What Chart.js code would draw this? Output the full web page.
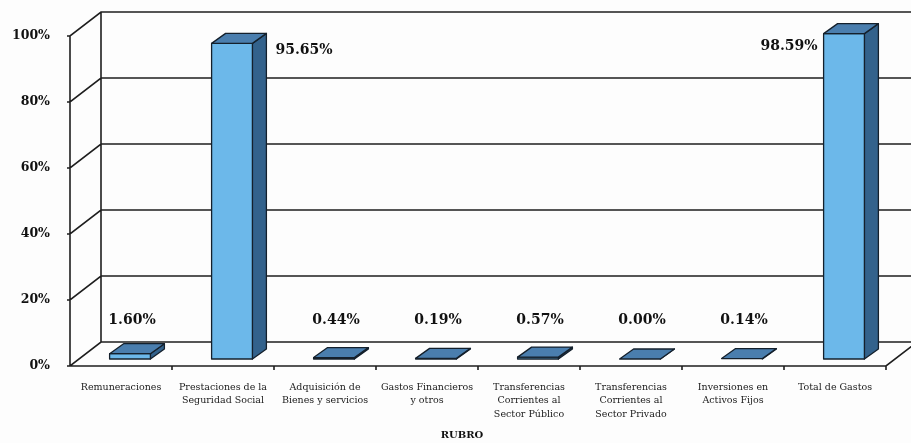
<!DOCTYPE html>
<html>
<head>
<meta charset="utf-8">
<script src="https://cdn.jsdelivr.net/npm/chart.js@4/dist/chart.umd.min.js"></script>
<style>
  body { margin: 0; background: #fdfdfd; }
  #wrap { width: 911px; height: 443px; }
</style>
</head>
<body>
<div id="wrap"><canvas id="chart" width="911" height="443"></canvas></div>
<script>
// Données du graphique
const rubros = [
    'Remuneraciones',
    ['Prestaciones de la', 'Seguridad Social'],
    ['Adquisición de', 'Bienes y servicios'],
    ['Gastos Financieros', 'y otros'],
    ['Transferencias', 'Corrientes al', 'Sector Público'],
    ['Transferencias', 'Corrientes al', 'Sector Privado'],
    ['Inversiones en', 'Activos Fijos'],
    'Total de Gastos'
];
const porcentajes = [1.60, 95.65, 0.44, 0.19, 0.57, 0.00, 0.14, 98.59];
const yTicks = [0, 20, 40, 60, 80, 100];

// Profondeur 3D
const WALL_DX = 31, WALL_DY = -24;
const BAR_OFF_X = 9, BAR_OFF_Y = -7;
const BAR_DX = 14, BAR_DY = -10;

const lineColor = '#1e1e1e';
const frontColor = '#6cb8ea';
const topColor = '#4a7eae';
const sideColor = '#33628c';

const wallPlugin = {
    id: 'wall',
    beforeDatasetsDraw(chart) {
        const ctx = chart.ctx;
        const y = chart.scales.y;
        const left = chart.chartArea.left;
        const right = chart.chartArea.right;
        const y0 = y.getPixelForValue(0);
        const y100 = y.getPixelForValue(100);
        ctx.save();
        ctx.strokeStyle = lineColor;
        ctx.lineWidth = 1.6;
        ctx.beginPath();
        // mur gauche
        ctx.moveTo(left, y100); ctx.lineTo(left, y0);
        ctx.moveTo(left + WALL_DX, y100 + WALL_DY); ctx.lineTo(left + WALL_DX, y0 + WALL_DY);
        yTicks.forEach(v => {
            const py = y.getPixelForValue(v);
            ctx.moveTo(left - 3, py);
            ctx.lineTo(left, py);
            ctx.lineTo(left + WALL_DX, py + WALL_DY);
            ctx.lineTo(chart.width + 10, py + WALL_DY);
        });
        // sol
        ctx.moveTo(left, y0); ctx.lineTo(right, y0);
        ctx.lineTo(right + WALL_DX, y0 + WALL_DY);
        // graduations de l'axe des catégories
        for (let i = 1; i <= rubros.length; i++) {
            const px = left + (right - left) * i / rubros.length;
            ctx.moveTo(px, y0); ctx.lineTo(px, y0 + 4);
        }
        ctx.stroke();
        ctx.restore();
    },
    afterDatasetsDraw(chart) {
        const ctx = chart.ctx;
        const y = chart.scales.y;
        const meta = chart.getDatasetMeta(0);
        ctx.save();
        ctx.strokeStyle = '#14202c';
        ctx.lineWidth = 1.3;
        ctx.lineJoin = 'round';
        meta.data.forEach((el, i) => {
            const fl = el.x - el.width / 2 + BAR_OFF_X;
            const fr = el.x + el.width / 2 + BAR_OFF_X;
            const ft = el.y + BAR_OFF_Y;
            const fb = el.base + BAR_OFF_Y;
            // côté
            ctx.beginPath();
            ctx.moveTo(fr, fb); ctx.lineTo(fr + BAR_DX, fb + BAR_DY);
            ctx.lineTo(fr + BAR_DX, ft + BAR_DY); ctx.lineTo(fr, ft);
            ctx.closePath();
            ctx.fillStyle = sideColor; ctx.fill(); ctx.stroke();
            // face avant
            if (fb - ft > 0.5) {
                ctx.beginPath();
                ctx.rect(fl, ft, fr - fl, fb - ft);
                ctx.fillStyle = frontColor; ctx.fill(); ctx.stroke();
            }
            // dessus
            ctx.beginPath();
            ctx.moveTo(fl, ft); ctx.lineTo(fl + BAR_DX, ft + BAR_DY);
            ctx.lineTo(fr + BAR_DX, ft + BAR_DY); ctx.lineTo(fr, ft);
            ctx.closePath();
            ctx.fillStyle = topColor; ctx.fill(); ctx.stroke();
        });

        // étiquettes de valeurs
        ctx.fillStyle = '#111';
        ctx.font = 'bold 14px "DejaVu Serif"';
        ctx.textBaseline = 'middle';
        const y0 = y.getPixelForValue(0);
        meta.data.forEach((el, i) => {
            const v = porcentajes[i];
            const txt = v.toFixed(2) + '%';
            const ft = el.y + BAR_OFF_Y;
            if (v > 50) {
                if (i === meta.data.length - 1) {
                    ctx.textAlign = 'right';
                    ctx.fillText(txt, el.x - el.width / 2 + BAR_OFF_X - 6, ft + 13);
                } else {
                    ctx.textAlign = 'left';
                    ctx.fillText(txt, el.x + el.width / 2 + BAR_OFF_X + BAR_DX + 9, ft + 7);
                }
            } else {
                ctx.textAlign = 'center';
                ctx.fillText(txt, el.x + 11, y0 - 46);
            }
        });

        // titre de l'axe
        ctx.font = 'bold 10px "DejaVu Serif"';
        ctx.textAlign = 'center';
        ctx.fillText('RUBRO', 462, 435);
        ctx.restore();
    }
};

new Chart(document.getElementById('chart'), {
    type: 'bar',
    data: {
        labels: rubros,
        datasets: [{
            data: porcentajes,
            backgroundColor: 'rgba(0,0,0,0)',
            borderWidth: 0,
            barPercentage: 0.4,
            categoryPercentage: 1
        }]
    },
    options: {
        responsive: false,
        animation: false,
        layout: { padding: { left: 0, right: 25, top: 36, bottom: 0 } },
        plugins: { legend: { display: false }, tooltip: { enabled: false } },
        scales: {
            x: {
                grid: { display: false },
                border: { display: false },
                ticks: {
                    autoSkip: false,
                    maxRotation: 0,
                    padding: 7,
                    color: '#1a1a1a',
                    font: { family: '"DejaVu Serif"', size: 9.5, lineHeight: 1.4 }
                },
                afterFit: scale => { scale.height = 77; }
            },
            y: {
                min: 0,
                max: 100,
                grid: { display: false },
                border: { display: false },
                ticks: {
                    stepSize: 20,
                    padding: 12,
                    color: '#111',
                    font: { family: '"DejaVu Serif"', size: 12.5, weight: 'bold' },
                    callback: v => v + '%'
                },
                afterFit: scale => { scale.width = 70; }
            }
        }
    },
    plugins: [wallPlugin]
});
</script>
</body>
</html>
